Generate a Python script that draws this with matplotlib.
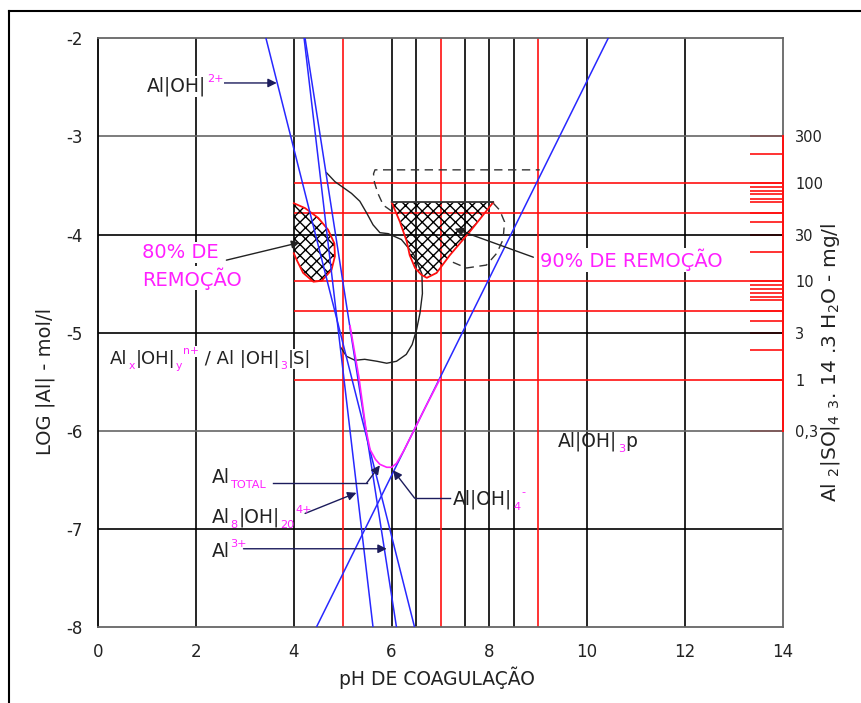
import numpy as np
import matplotlib
matplotlib.use('Agg')
import matplotlib.pyplot as plt
from matplotlib.lines import Line2D
from matplotlib.patches import Polygon

plt.rcParams['font.family'] = ['DejaVu Sans']
plt.rcParams['hatch.linewidth'] = 1.0

# eixos
ph_ticks = [0, 2, 4, 6, 8, 10, 12, 14]
log_ticks = [-2, -3, -4, -5, -6, -7, -8]
black_v = [2, 4, 6, 6.5, 7.5, 8, 8.5, 10, 12]
red_v = [5, 7, 9]
black_h = [-4, -5, -7]
gray_h = [-3, -6]

# dosagem de sulfato de aluminio (mg/l)
dose_lines = [100, 50, 10, 5, 1]
dose_major = [300, 100, 30, 10, 3, 1, 0.3]
dose_labels = ['300', '100', '30', '10', '3', '1', '0,3']
dose_minor = [200, 92, 84, 77, 70, 64, 50, 40, 20, 9.2, 8.4, 7.7, 7.0, 6.4, 5, 4, 2]

# retas das especies (pH, log Al)
aloh2_ph = [3.43, 6.47]
aloh2_log = [-2, -8]
al8_ph = [4.21, 5.62]
al8_log = [-2, -8]
al3_ph = [4.23, 6.10]
al3_log = [-2, -8]
aloh4_ph = [4.46, 10.43]
aloh4_log = [-8, -2]

# Al total
tot_ph = [5.15, 5.33, 5.48, 5.56, 5.67, 5.76, 5.9, 6.0, 6.1, 6.25, 6.45, 6.7, 6.99]
tot_log = [-4.93, -5.45, -6.0, -6.19, -6.29, -6.34, -6.37, -6.37, -6.33, -6.2, -6.0, -5.75, -5.47]

# limite Alx(OH)y / Al(OH)3(s)
bnd_ph = [4.67, 4.84, 5.18, 5.35, 5.49, 5.62, 5.76, 5.93, 6.2, 6.45, 6.62, 6.63, 6.58,
          6.51, 6.42, 6.3, 6.1, 5.9, 5.7, 5.45, 5.25, 5.08, 4.96]
bnd_log = [-3.37, -3.46, -3.58, -3.66, -3.78, -3.90, -3.98, -3.99, -4.05, -4.2, -4.4, -4.6, -4.8,
           -4.97, -5.12, -5.22, -5.29, -5.31, -5.29, -5.27, -5.28, -5.24, -5.15]

# regiao tracejada
dash1_ph = [6.0, 5.83, 5.72, 5.65, 5.63, 5.66, 9.03]
dash1_log = [-3.76, -3.70, -3.58, -3.47, -3.38, -3.34, -3.34]
dash2_ph = [8.08, 8.21, 8.31, 8.28, 8.15, 7.94, 7.53, 7.2]
dash2_log = [-3.68, -3.75, -3.87, -4.05, -4.19, -4.31, -4.34, -4.27]

# regioes de remocao
r80_ph = [4.0, 4.23, 4.5, 4.7, 4.83, 4.84, 4.77, 4.57, 4.40, 4.19, 4.06, 4.0]
r80_log = [-3.68, -3.73, -3.83, -3.95, -4.09, -4.22, -4.36, -4.47, -4.48, -4.39, -4.26, -4.19]
r90_ph = [6.0, 6.17, 6.31, 6.37, 6.48, 6.61, 6.72, 6.92, 7.19, 7.6, 8.08]
r90_log = [-3.67, -3.87, -4.07, -4.21, -4.34, -4.41, -4.44, -4.39, -4.21, -3.97, -3.67]

RED = '#ff1010'
BLUE = '#2828ff'
MAG = '#ff20ff'
NAVY = '#1c1c5c'
GRAY = '#666666'
INK = '#222222'


def to_dose(y):
    return 300 * 10 ** (np.asarray(y, dtype=float) + 3)


def to_log(d):
    return np.log10(np.clip(np.asarray(d, dtype=float), 1e-12, None) / 300) - 3


fig = plt.figure(figsize=(8.61, 7.03), dpi=100)
ax = fig.add_axes([98.3 / 861, 1 - 627.3 / 703, (782.7 - 98.3) / 861, (627.3 - 38.3) / 703])
ax.set_xlim(0, 14)
ax.set_ylim(-8, -2)

for x in black_v:
    ax.axvline(x, color='k', lw=1.2, zorder=1)
for y in black_h:
    ax.axhline(y, color='k', lw=1.2, zorder=1)
for y in gray_h:
    ax.axhline(y, color=GRAY, lw=1.2, zorder=1)
for x in red_v:
    ax.axvline(x, color=RED, lw=1.2, zorder=1.5)
ax.hlines(to_log(dose_lines), 4, 14, color=RED, lw=1.2, zorder=1.5)

for s in ['top', 'bottom', 'right']:
    ax.spines[s].set_color(GRAY)
    ax.spines[s].set_linewidth(1.3)
ax.spines['left'].set_linewidth(1.3)

ax.set_xticks(ph_ticks, [str(v) for v in ph_ticks])
ax.set_yticks(log_ticks, [str(v) for v in log_ticks])
ax.tick_params(length=0, labelsize=12, pad=11, labelcolor=INK)

# escala de dosagem a direita
sec = ax.secondary_yaxis('right', functions=(to_dose, to_log))
sec.set_yticks(dose_major, dose_labels)
sec.set_yticks(dose_minor, minor=True)
sec.tick_params(which='both', direction='in', length=24, width=1.2, color=RED, pad=9,
                labelsize=10.5, labelcolor=INK)
sec.spines['right'].set_visible(False)
ax.plot([14, 14], to_log([0.3, 300]), color=RED, lw=1.4, clip_on=False, zorder=5)

# regioes hachuradas
for px, py in [(r80_ph, r80_log), (r90_ph, r90_log)]:
    ax.add_patch(Polygon(np.column_stack([px, py]), closed=True, facecolor='none',
                         edgecolor='k', lw=0, hatch='xxx', zorder=2))
    ax.plot(px, py, color=RED, lw=1.3, zorder=3)
ax.plot([r90_ph[0], r90_ph[-1]], [r90_log[0], r90_log[-1]], color='#333333', lw=1.3, zorder=3)

# curvas
ax.plot(bnd_ph, bnd_log, color=INK, lw=1.0, zorder=2.5)
ax.plot(dash1_ph, dash1_log, color='#333333', lw=1.0, ls=(0, (6, 4)), zorder=2.5)
ax.plot(dash2_ph, dash2_log, color='#333333', lw=1.0, ls=(0, (6, 4)), zorder=2.5)

for px, py in [(aloh2_ph, aloh2_log), (al8_ph, al8_log), (al3_ph, al3_log), (aloh4_ph, aloh4_log)]:
    ax.plot(px, py, color=BLUE, lw=1.1, zorder=4)
ax.plot(tot_ph, tot_log, color=MAG, lw=1.2, zorder=4.5)


def label(x, y, parts, size=13.5, bg=True):
    first = None
    prev = None
    for s, c, k in parts:
        fs = size if k == 0 else size * 0.6
        if prev is None:
            t = ax.text(x, y, s, color=c, fontsize=fs, va='baseline', ha='left', zorder=6)
            first = t
        else:
            dy = {0: 0, -1: -2, 1: 8.5}[k]
            t = ax.annotate(s, xy=(1, 0), xycoords=(prev, first), xytext=(0.5, dy),
                            textcoords='offset points', color=c, fontsize=fs,
                            va='bottom', ha='left', zorder=6)
        if bg:
            t.set_bbox(dict(facecolor='white', edgecolor='none', pad=0.5))
        prev = t


def arrow(tail, tip):
    ax.annotate('', xy=tip, xytext=tail,
                arrowprops=dict(arrowstyle='-|>', color=NAVY, lw=1.0,
                                mutation_scale=13, shrinkA=0, shrinkB=0), zorder=5)


label(1.0, -2.544, [('Al|OH|', INK, 0), ('2+', MAG, 1)])
arrow((2.49, -2.455), (3.65, -2.455))

label(0.24, -5.32, [('Al', INK, 0), ('x', MAG, -1), ('|OH|', INK, 0), ('y', MAG, -1),
                    ('n+', MAG, 1), (' / Al |OH|', INK, 0), ('3', MAG, -1), ('|S|', INK, 0)],
      size=13)

label(9.40, -6.16, [('Al|OH|', INK, 0), ('3', MAG, -1), ('p', INK, 0)], bg=False)

label(2.32, -6.53, [('Al', INK, 0), ('TOTAL', MAG, -1)], bg=False)
ax.plot([3.58, 5.49], [-6.53, -6.53], color=NAVY, lw=1.0, zorder=5)
arrow((5.49, -6.53), (5.76, -6.35))

label(2.32, -6.94, [('Al', INK, 0), ('8', MAG, -1), ('|OH|', INK, 0), ('20', MAG, -1),
                    ('4+', MAG, 1)], bg=False)
arrow((4.23, -6.84), (5.28, -6.63))

label(2.32, -7.28, [('Al', INK, 0), ('3+', MAG, 1)], bg=False)
arrow((2.97, -7.20), (5.9, -7.20))

label(7.26, -6.75, [('Al|OH|', INK, 0), ('4', MAG, -1), ('-', MAG, 1)], bg=False)
ax.plot([7.19, 6.47], [-6.684, -6.684], color=NAVY, lw=1.0, zorder=5)
arrow((6.47, -6.684), (6.03, -6.40))

# textos de remocao
txt_kw = dict(color=MAG, fontsize=14, va='baseline', ha='left', zorder=6,
              bbox=dict(facecolor='white', edgecolor='none', pad=0.5))
ax.text(0.89, -4.24, '80% DE', **txt_kw)
ax.text(0.89, -4.52, 'REMOÇÃO', **txt_kw)
ax.text(9.03, -4.33, '90% DE REMOÇÃO', **txt_kw)
ax.annotate('', xy=(4.12, -4.08), xytext=(2.62, -4.26),
            arrowprops=dict(arrowstyle='-|>', color=INK, lw=1.0, mutation_scale=12,
                            shrinkA=0, shrinkB=0), zorder=5)
ax.annotate('', xy=(7.29, -3.94), xytext=(8.9, -4.23),
            arrowprops=dict(arrowstyle='-|>', color=INK, lw=1.0, mutation_scale=12,
                            shrinkA=0, shrinkB=0), zorder=5)

# titulos dos eixos
fig.text(437 / 861, 1 - 678 / 703, 'pH DE COAGULAÇÃO', fontsize=13.5, ha='center', va='center',
         color=INK)
fig.text(45 / 861, 1 - 381 / 703, 'LOG |Al| - mol/l', fontsize=14, ha='center', va='center',
         rotation=90, color=INK)
fig.text(830 / 861, 1 - 362 / 703, r'Al $_2$|SO|$_4$ $_3$. 14 .3 H$_2$O - mg/l', fontsize=14.5,
         ha='center', va='center', rotation=90, color=INK)

# moldura externa
fig.add_artist(Line2D([9 / 861, 9 / 861], [0, 1 - 11 / 703], transform=fig.transFigure, color='k', lw=1.5))
fig.add_artist(Line2D([9 / 861, 1], [1 - 11 / 703, 1 - 11 / 703], transform=fig.transFigure, color='k', lw=1.5))

fig.savefig('out.png', dpi=100)
